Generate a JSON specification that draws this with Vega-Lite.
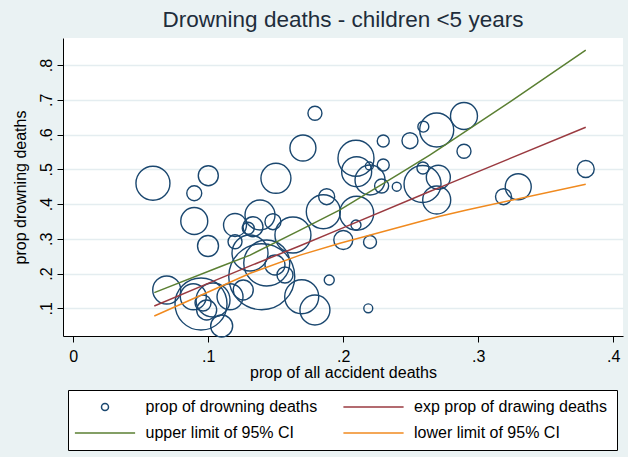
{
  "$schema": "https://vega.github.io/schema/vega-lite/v6.json",
  "width": 560,
  "height": 298,
  "autosize": {"type": "none"},
  "padding": {"left": 63, "top": 38, "right": 5, "bottom": 121},
  "background": "#EAF2F3",
  "config": {
    "font": "Liberation Sans",
    "view": {"fill": "white", "stroke": null},
    "axis": {
      "domainColor": "#000", "domainWidth": 1, "tickColor": "#000", "tickSize": 6, "tickWidth": 1,
      "labelFontSize": 16, "labelColor": "#000", "labelFont": "Liberation Sans",
      "titleFontSize": 16, "titleFontWeight": "normal", "titleColor": "#000", "titleFont": "Liberation Sans"
    }
  },
  "title": {
    "text": "Drowning deaths - children <5 years",
    "fontSize": 22.5, "font": "Liberation Sans", "fontWeight": "normal", "color": "#1e2d3b",
    "anchor": "middle", "offset": 7
  },
  "datasets": {
    "pts": [
      {"x": 0.059, "y": 0.460, "n": 289},
      {"x": 0.0896, "y": 0.431, "n": 56},
      {"x": 0.100, "y": 0.4816, "n": 100},
      {"x": 0.0896, "y": 0.3512, "n": 182},
      {"x": 0.0998, "y": 0.2793, "n": 110},
      {"x": 0.1198, "y": 0.3397, "n": 132},
      {"x": 0.1296, "y": 0.3302, "n": 36},
      {"x": 0.1198, "y": 0.2917, "n": 49},
      {"x": 0.0692, "y": 0.1527, "n": 196},
      {"x": 0.0946, "y": 0.1124, "n": 676},
      {"x": 0.0889, "y": 0.1334, "n": 169},
      {"x": 0.0988, "y": 0.0951, "n": 100},
      {"x": 0.0961, "y": 0.1153, "n": 64},
      {"x": 0.1099, "y": 0.0491, "n": 121},
      {"x": 0.1035, "y": 0.1239, "n": 289},
      {"x": 0.1501, "y": 0.4741, "n": 225},
      {"x": 0.1701, "y": 0.5613, "n": 169},
      {"x": 0.1790, "y": 0.6612, "n": 49},
      {"x": 0.1383, "y": 0.3685, "n": 225},
      {"x": 0.1331, "y": 0.3348, "n": 100},
      {"x": 0.1479, "y": 0.3492, "n": 64},
      {"x": 0.1627, "y": 0.3109, "n": 324},
      {"x": 0.1396, "y": 0.1909, "n": 1089},
      {"x": 0.1433, "y": 0.2304, "n": 529},
      {"x": 0.1309, "y": 0.2591, "n": 324},
      {"x": 0.1494, "y": 0.2246, "n": 100},
      {"x": 0.1568, "y": 0.1958, "n": 64},
      {"x": 0.1692, "y": 0.1334, "n": 289},
      {"x": 0.1790, "y": 0.0951, "n": 225},
      {"x": 0.1896, "y": 0.1814, "n": 25},
      {"x": 0.1259, "y": 0.1527, "n": 100},
      {"x": 0.1161, "y": 0.1334, "n": 169},
      {"x": 0.2094, "y": 0.5317, "n": 324},
      {"x": 0.2099, "y": 0.4931, "n": 225},
      {"x": 0.2198, "y": 0.4692, "n": 225},
      {"x": 0.2193, "y": 0.5095, "n": 16},
      {"x": 0.2296, "y": 0.5814, "n": 36},
      {"x": 0.2296, "y": 0.5124, "n": 36},
      {"x": 0.2284, "y": 0.4519, "n": 49},
      {"x": 0.2396, "y": 0.4499, "n": 20},
      {"x": 0.2494, "y": 0.5823, "n": 64},
      {"x": 0.2593, "y": 0.6226, "n": 30},
      {"x": 0.2587, "y": 0.4577, "n": 342},
      {"x": 0.2590, "y": 0.5037, "n": 36},
      {"x": 0.1877, "y": 0.4212, "n": 64},
      {"x": 0.1852, "y": 0.3780, "n": 289},
      {"x": 0.2099, "y": 0.3734, "n": 289},
      {"x": 0.2094, "y": 0.3397, "n": 25},
      {"x": 0.2000, "y": 0.2965, "n": 90},
      {"x": 0.2198, "y": 0.2908, "n": 42},
      {"x": 0.2185, "y": 0.1000, "n": 20},
      {"x": 0.2692, "y": 0.6131, "n": 289},
      {"x": 0.2894, "y": 0.6534, "n": 182},
      {"x": 0.2894, "y": 0.5518, "n": 49},
      {"x": 0.2704, "y": 0.4770, "n": 144},
      {"x": 0.2692, "y": 0.4117, "n": 196},
      {"x": 0.3187, "y": 0.4212, "n": 64},
      {"x": 0.3296, "y": 0.4499, "n": 169},
      {"x": 0.3796, "y": 0.5009, "n": 72}
    ],
    "lines": [
      {"series": "upper limit of 95% CI", "x": 0.06, "y": 0.145},
      {"series": "upper limit of 95% CI", "x": 0.1087, "y": 0.2197},
      {"series": "upper limit of 95% CI", "x": 0.131, "y": 0.253},
      {"series": "upper limit of 95% CI", "x": 0.168, "y": 0.325},
      {"series": "upper limit of 95% CI", "x": 0.1975, "y": 0.383},
      {"series": "upper limit of 95% CI", "x": 0.242, "y": 0.488},
      {"series": "upper limit of 95% CI", "x": 0.264, "y": 0.541},
      {"series": "upper limit of 95% CI", "x": 0.2716, "y": 0.560},
      {"series": "upper limit of 95% CI", "x": 0.3235, "y": 0.694},
      {"series": "upper limit of 95% CI", "x": 0.3796, "y": 0.843},
      {"series": "exp prop of drawing deaths", "x": 0.06, "y": 0.1066},
      {"series": "exp prop of drawing deaths", "x": 0.1087, "y": 0.186},
      {"series": "exp prop of drawing deaths", "x": 0.131, "y": 0.222},
      {"series": "exp prop of drawing deaths", "x": 0.168, "y": 0.280},
      {"series": "exp prop of drawing deaths", "x": 0.1975, "y": 0.328},
      {"series": "exp prop of drawing deaths", "x": 0.264, "y": 0.436},
      {"series": "exp prop of drawing deaths", "x": 0.2716, "y": 0.448},
      {"series": "exp prop of drawing deaths", "x": 0.3796, "y": 0.621},
      {"series": "lower limit of 95% CI", "x": 0.06, "y": 0.078},
      {"series": "lower limit of 95% CI", "x": 0.1087, "y": 0.162},
      {"series": "lower limit of 95% CI", "x": 0.131, "y": 0.2007},
      {"series": "lower limit of 95% CI", "x": 0.168, "y": 0.253},
      {"series": "lower limit of 95% CI", "x": 0.1975, "y": 0.287},
      {"series": "lower limit of 95% CI", "x": 0.264, "y": 0.357},
      {"series": "lower limit of 95% CI", "x": 0.2716, "y": 0.365},
      {"series": "lower limit of 95% CI", "x": 0.2914, "y": 0.383},
      {"series": "lower limit of 95% CI", "x": 0.3796, "y": 0.457}
    ]
  },
  "layer": [
    {
      "data": {"name": "pts"},
      "transform": [{"calculate": "'prop of drowning deaths'", "as": "series"}],
      "mark": {"type": "point", "filled": false, "opacity": 1, "strokeWidth": 1.4},
      "encoding": {
        "x": {
          "field": "x", "type": "quantitative",
          "scale": {"domain": [-0.00763, 0.4072], "nice": false, "zero": false},
          "axis": {
            "title": "prop of all accident deaths", "grid": false, "values": [0, 0.1, 0.2, 0.3, 0.4],
            "labelExpr": "datum.value === 0 ? '0' : replace(format(datum.value, '.1f'), '0.', '.')",
            "labelPadding": 6, "titlePadding": 0
          }
        },
        "y": {
          "field": "y", "type": "quantitative",
          "scale": {"domain": [0.0203, 0.8778], "nice": false, "zero": false},
          "axis": {
            "title": "prop drowning deaths", "grid": true, "gridColor": "#E4EDF0", "gridWidth": 1.5,
            "values": [0.1, 0.2, 0.3, 0.4, 0.5, 0.6, 0.7, 0.8],
            "labelExpr": "replace(format(datum.value, '.1f'), '0.', '.')",
            "labelAngle": -90, "labelPadding": 3, "titlePadding": 10
          }
        },
        "size": {"field": "n", "type": "quantitative", "scale": {"type": "linear", "domain": [0, 1000], "range": [0, 4000]}, "legend": null},
        "shape": {
          "field": "series", "type": "nominal",
          "scale": {
            "domain": ["prop of drowning deaths", "exp prop of drawing deaths", "upper limit of 95% CI", "lower limit of 95% CI"],
            "range": ["circle", "M-8.6,0H8.6", "M-8.6,0H8.6", "M-8.6,0H8.6"]
          },
          "legend": {
            "title": null, "orient": "none", "legendX": 5, "legendY": 352, "columns": 2, "direction": "horizontal",
            "symbolSize": 49, "symbolStrokeWidth": 1.5, "symbolOffset": 20, "labelOffset": 32.5,
            "labelFontSize": 16, "labelColor": "#000", "labelFont": "Liberation Sans", "labelLimit": 400,
            "padding": 9, "strokeColor": "#000", "fillColor": "#fff", "columnPadding": 21.5, "rowPadding": 10
          }
        },
        "color": {
          "field": "series", "type": "nominal",
          "scale": {
            "domain": ["prop of drowning deaths", "exp prop of drawing deaths", "upper limit of 95% CI", "lower limit of 95% CI"],
            "range": ["#1A476F", "#9A3A40", "#5A7F32", "#F08A1F"]
          },
          "legend": {
            "title": null, "orient": "none", "legendX": 5, "legendY": 352, "columns": 2, "direction": "horizontal",
            "symbolSize": 49, "symbolStrokeWidth": 1.5, "symbolOffset": 20, "labelOffset": 32.5,
            "labelFontSize": 16, "labelColor": "#000", "labelFont": "Liberation Sans", "labelLimit": 400,
            "padding": 9, "strokeColor": "#000", "fillColor": "#fff", "columnPadding": 21.5, "rowPadding": 10
          }
        }
      }
    },
    {
      "data": {"name": "lines"},
      "mark": {"type": "line", "strokeWidth": 1.5},
      "encoding": {
        "x": {"field": "x", "type": "quantitative"},
        "y": {"field": "y", "type": "quantitative"},
        "color": {"field": "series", "type": "nominal", "legend": null}
      }
    }
  ]
}
